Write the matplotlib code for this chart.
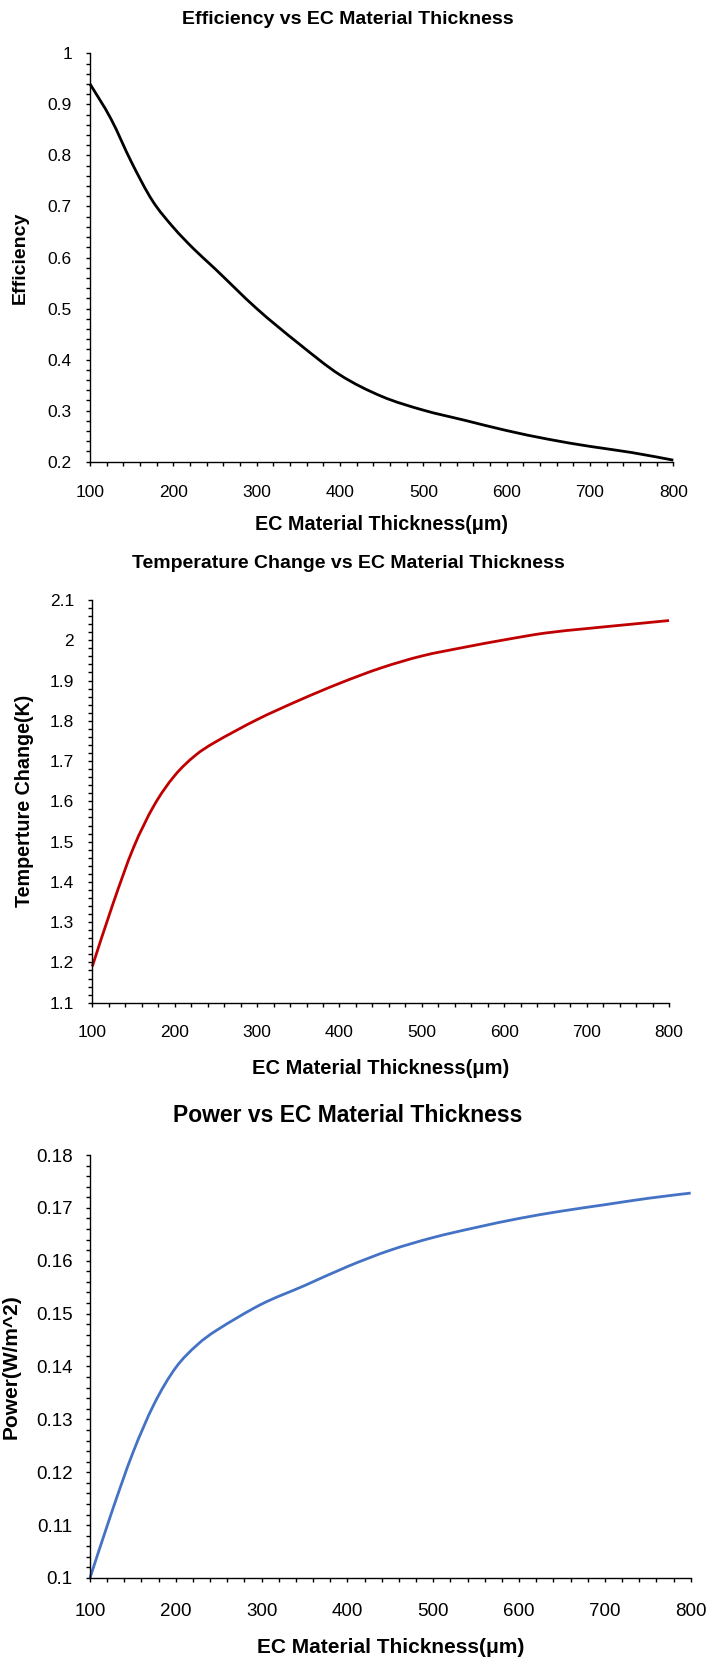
import matplotlib
matplotlib.use("Agg")
import matplotlib.pyplot as plt
from matplotlib.ticker import MultipleLocator, FuncFormatter
from matplotlib.path import Path
from matplotlib.patches import PathPatch

plt.rcParams['font.family'] = ['Liberation Sans', 'DejaVu Sans']

# ---------------- data ----------------
thickness = [100, 125, 150, 175, 200, 225, 250, 300, 350, 400, 450, 500, 550, 600, 650, 700, 750, 800]
efficiency = [0.940, 0.872, 0.786, 0.711, 0.659, 0.616, 0.578, 0.500, 0.432, 0.370, 0.328, 0.301, 0.281, 0.261, 0.244, 0.230, 0.218, 0.203]
temp_change = [1.19, 1.345, 1.485, 1.590, 1.664, 1.714, 1.748, 1.803, 1.850, 1.893, 1.931, 1.961, 1.982, 2.001, 2.018, 2.029, 2.039, 2.049]
power = [0.1000, 0.1123, 0.1237, 0.1330, 0.1398, 0.1441, 0.1471, 0.1518, 0.1553, 0.1589, 0.1620, 0.1644, 0.1663, 0.1680, 0.1694, 0.1706, 0.1718, 0.1728]

titles = ["Efficiency vs EC Material Thickness",
          "Temperature Change vs EC Material Thickness",
          "Power vs EC Material Thickness"]
xlabel = "EC Material Thickness(μm)"
ylabels = ["Efficiency", "Temperture Change(K)", "Power(W/m^2)"]

W, H = 714, 1663
DPI = 100
fig = plt.figure(figsize=(W / DPI, H / DPI), dpi=DPI)

def fx(px):
    return px / W

def fy(py):
    return 1 - py / H

def gfmt(v, pos):
    return ('%.2f' % v).rstrip('0').rstrip('.')

def smooth_path(xs, ys):
    """Excel-style smoothed line through the points (cubic Bezier segments)."""
    n = len(xs)
    verts = [(xs[0], ys[0])]
    codes = [Path.MOVETO]
    for i in range(n - 1):
        i0 = max(i - 1, 0)
        i3 = min(i + 2, n - 1)
        c1 = (xs[i] + (xs[i + 1] - xs[i0]) / 6.0, ys[i] + (ys[i + 1] - ys[i0]) / 6.0)
        c2 = (xs[i + 1] - (xs[i3] - xs[i]) / 6.0, ys[i + 1] - (ys[i3] - ys[i]) / 6.0)
        verts += [c1, c2, (xs[i + 1], ys[i + 1])]
        codes += [Path.CURVE4, Path.CURVE4, Path.CURVE4]
    return Path(verts, codes)

# layout in pixels: (left, right, top, bottom)
specs = [
    dict(box=(90, 673.3, 53.3, 461.7), y=efficiency, color='black',
         ylim=(0.2, 1.0), ymaj=0.1, ymin=0.02,
         title_y=19, title_fs=14, xl_y=524, xl_fs=14.2, yl_x=20.5, yl_fs=14,
         tick_fs=12.5, xpad=13.7, ypad=10),
    dict(box=(92.3, 669, 600, 1002.7), y=temp_change, color='#C00000',
         ylim=(1.1, 2.1), ymaj=0.1, ymin=0.02,
         title_y=563, title_fs=14, xl_y=1068, xl_fs=14.5, yl_x=25, yl_fs=14.2,
         tick_fs=12.5, xpad=13, ypad=10),
    dict(box=(90, 690.7, 1155, 1578), y=power, color='#4472C4',
         ylim=(0.1, 0.18), ymaj=0.01, ymin=0.002,
         title_y=1116, title_fs=16.5, xl_y=1647.5, xl_fs=15, yl_x=11, yl_fs=15,
         tick_fs=13.5, xpad=15, ypad=9.5),
]

for i, s in enumerate(specs):
    l, r, t, b = s['box']
    ax = fig.add_axes([fx(l), fy(b), fx(r) - fx(l), fy(t) - fy(b)])
    patch = PathPatch(smooth_path(thickness, s['y']), facecolor='none',
                      edgecolor=s['color'], lw=2.0, clip_on=False,
                      joinstyle='round', capstyle='butt')
    ax.add_patch(patch)
    ax.set_xlim(100, 800)
    ax.set_ylim(*s['ylim'])
    ax.xaxis.set_major_locator(MultipleLocator(100))
    ax.xaxis.set_minor_locator(MultipleLocator(20))
    ax.yaxis.set_major_locator(MultipleLocator(s['ymaj']))
    ax.yaxis.set_minor_locator(MultipleLocator(s['ymin']))
    ax.yaxis.set_major_formatter(FuncFormatter(gfmt))
    ax.xaxis.set_major_formatter(FuncFormatter(gfmt))
    for side in ('top', 'right'):
        ax.spines[side].set_visible(False)
    for side in ('left', 'bottom'):
        ax.spines[side].set_linewidth(1.0)
        ax.spines[side].set_color('black')
        ax.spines[side].set_zorder(1)
    ax.tick_params(which='both', direction='out', length=3, width=1.0, color='black')
    ax.tick_params(axis='x', which='major', pad=s['xpad'], labelsize=s['tick_fs'])
    ax.tick_params(axis='y', which='major', pad=s['ypad'], labelsize=s['tick_fs'])
    ax.patch.set_alpha(0)

    # axis labels
    ax.set_xlabel(xlabel, fontsize=s['xl_fs'], fontweight='bold')
    ax.xaxis.set_label_coords(0.5, (b - s['xl_y']) / (b - t))
    ax.xaxis.label.set_va('center')
    ax.set_ylabel(ylabels[i], fontsize=s['yl_fs'], fontweight='bold')
    ax.yaxis.set_label_coords((s['yl_x'] - l) / (r - l), 0.5)
    ax.yaxis.label.set_va('center')

    fig.text(fx(348), fy(s['title_y']), titles[i], ha='center', va='center',
             fontsize=s['title_fs'], fontweight='bold')

fig.savefig('out.png', dpi=DPI)
